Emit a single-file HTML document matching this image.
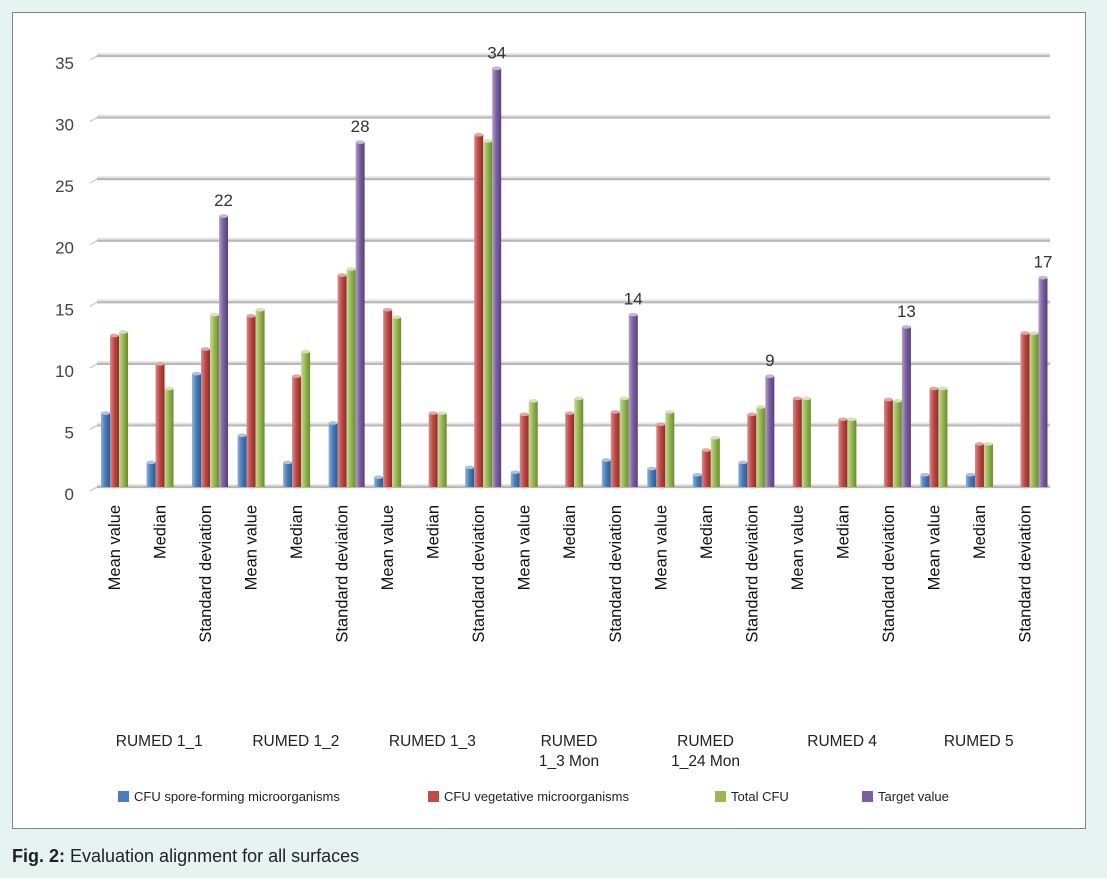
<!DOCTYPE html>
<html><head><meta charset="utf-8">
<style>
body{margin:0;background:#e7f3f0;font-family:"Liberation Sans",sans-serif;}
#wrap{position:relative;width:1107px;height:878px;background:#e7f3f0;}
#box{position:absolute;left:12px;top:12px;width:1072px;height:815px;background:#fff;border:1px solid #7a8a88;}
#cap{position:absolute;left:12px;top:846px;font-size:18px;color:#222;}
</style></head><body>
<div id="wrap">
<div id="box"></div>
<svg id="chart" width="1107" height="878" style="position:absolute;left:0;top:0">
<defs>
<linearGradient id="gb" x1="0" x2="1"><stop offset="0" stop-color="#8fb0dc"/><stop offset="0.45" stop-color="#4a7ebb"/><stop offset="1" stop-color="#2c5a90"/></linearGradient>
<linearGradient id="gr" x1="0" x2="1"><stop offset="0" stop-color="#e08a86"/><stop offset="0.45" stop-color="#be4b48"/><stop offset="1" stop-color="#8a2e2c"/></linearGradient>
<linearGradient id="gg" x1="0" x2="1"><stop offset="0" stop-color="#c5dc95"/><stop offset="0.45" stop-color="#98b954"/><stop offset="1" stop-color="#6a8a34"/></linearGradient>
<linearGradient id="gp" x1="0" x2="1"><stop offset="0" stop-color="#b3a0cc"/><stop offset="0.45" stop-color="#7d60a0"/><stop offset="1" stop-color="#56407a"/></linearGradient>
</defs>
</svg>
<div id="cap"><b>Fig. 2:</b> Evaluation alignment for all surfaces</div>
</div>
<script>
const categories=["Mean value","Median","Standard deviation","Mean value","Median","Standard deviation","Mean value","Median","Standard deviation","Mean value","Median","Standard deviation","Mean value","Median","Standard deviation","Mean value","Median","Standard deviation","Mean value","Median","Standard deviation"];
const groups=[["RUMED 1_1"],["RUMED 1_2"],["RUMED 1_3"],["RUMED","1_3 Mon"],["RUMED","1_24 Mon"],["RUMED 4"],["RUMED 5"]];
const sporeValues=[6,2,9.2,4.2,2,5.2,0.8,0,1.6,1.2,0,2.2,1.5,1,2,0,0,0,1,1,0];
const vegValues=[12.3,10,11.2,13.9,9,17.2,14.4,6,28.6,5.9,6,6.1,5.1,3,5.9,7.2,5.5,7.1,8,3.5,12.5];
const totalValues=[12.6,8,14,14.4,11,17.7,13.8,6,28.1,7,7.2,7.2,6.1,4,6.5,7.2,5.5,7,8,3.5,12.5];
const targetValues=[0,0,22,0,0,28,0,0,34,0,0,14,0,0,9,0,0,13,0,0,17];
const yTicks=[0,5,10,15,20,25,30,35];
const seriesNames=["CFU spore-forming microorganisms","CFU vegetative microorganisms","Total CFU","Target value"];

const svg=document.getElementById('chart');
const NS='http://www.w3.org/2000/svg';
function mk(t,a,p){const e=document.createElementNS(NS,t);for(const k in a)e.setAttribute(k,a[k]);(p||svg).appendChild(e);return e;}
const y0=487,pxPer=(487-56)/35;
const yS=v=>y0-v*pxPer;
const slotW=(1047-91)/21;
const xS=i=>91+i*slotW;
yTicks.forEach(t=>{
  const y=yS(t);
  mk('line',{x1:97,y1:y-2,x2:1050,y2:y-2,stroke:'#e6e6e6','stroke-width':2});
  const g=mk('line',{x1:97,y1:y,x2:1050,y2:y,stroke:'#b8b8b8','stroke-width':2.2});
  
  const d=mk('line',{x1:90,y1:y+4,x2:97,y2:y,stroke:'#cfcfcf','stroke-width':1.5});
  
  const tx=mk('text',{x:74,y:y+13,'text-anchor':'end','font-size':17,fill:'#444'});
  tx.textContent=t;
  
});
const series=[sporeValues,vegValues,totalValues,targetValues];
const fills=['url(#gb)','url(#gr)','url(#gg)','url(#gp)'];
const tops=['#a9c3e6','#e6a3a0','#d4e6b0','#c4b4da'];
const names=['bar-spore','bar-vegetative','bar-total','bar-target'];
const bw=9;
categories.forEach((c,i)=>{
  series.forEach((s,k)=>{
    const v=s[i];
    const x=xS(i)+10+k*9;
    if(v>0){
      const y=yS(v);
      const r=mk('rect',{x:x,y:y,width:bw,height:y0-y,fill:fills[k]});
      
      mk('ellipse',{cx:x+bw/2,cy:y,rx:bw/2,ry:1.8,fill:tops[k]});
    }
  });
  if(targetValues[i]>0){
    const vl=mk('text',{x:xS(i)+10+27+bw/2,y:yS(targetValues[i])-10,'text-anchor':'middle','font-size':17,fill:'#333'});
    vl.textContent=targetValues[i];
    
  }
  const cx=xS(i)+23;
  const t=mk('text',{x:0,y:0,'text-anchor':'end','font-size':16.5,fill:'#111',transform:`translate(${cx+6},505) rotate(-90)`});
  t.textContent=c;
  
});
groups.forEach((g,j)=>{
  const cx=xS(3*j+1.5);
  g.forEach((line,l)=>{
    const t=mk('text',{x:cx,y:746+l*20,'text-anchor':'middle','font-size':15.5,fill:'#222'});
    t.textContent=line;
    
  });
});
const lx=[118,428,715,862];
const solid=['#4a7ebb','#be4b48','#98b954','#7d60a0'];
seriesNames.forEach((n,k)=>{
  const r=mk('rect',{x:lx[k],y:791,width:11,height:11,fill:solid[k]});
  
  const t=mk('text',{x:lx[k]+16,y:801,'font-size':13,fill:'#222'});
  t.textContent=n;
  
});
</script>
</body></html>
